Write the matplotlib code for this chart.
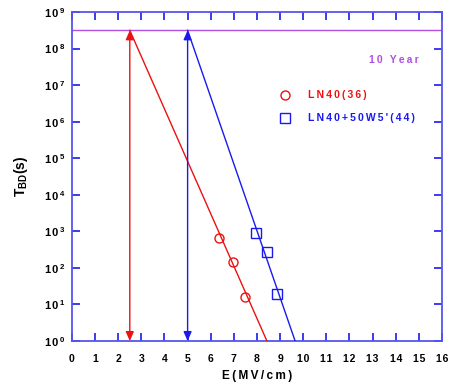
import matplotlib
matplotlib.use("Agg")
import matplotlib.pyplot as plt
from matplotlib.lines import Line2D
from matplotlib.ticker import FixedLocator, NullLocator

plt.rcParams['font.family'] = ['Liberation Sans', 'DejaVu Sans']
plt.rcParams['mathtext.fontset'] = 'custom'
plt.rcParams['mathtext.rm'] = 'Liberation Sans:bold'
plt.rcParams['mathtext.bf'] = 'Liberation Sans:bold'
plt.rcParams['mathtext.it'] = 'Liberation Sans:bold'

# Measured time-to-breakdown data
ln40_E = [6.36, 6.96, 7.49]
ln40_T = [650, 147, 16]
ln40w_E = [7.95, 8.43, 8.87]
ln40w_T = [875, 275, 19]

# Extrapolated fit lines (from 10-year lifetime down to 1 s)
ten_year_s = 3.15e8
ln40_fit_E = [2.5, 8.43]
ln40_fit_T = [ten_year_s, 1.0]
ln40w_fit_E = [5.0, 9.65]
ln40w_fit_T = [ten_year_s, 1.0]

# Field at 10-year lifetime for each film
ln40_E10 = 2.5
ln40w_E10 = 5.0

x_ticks = list(range(0, 17))
y_exps = list(range(0, 10))
series_labels = ['LN40(36)', "LN40+50W5'(44)"]


def spaced(s, gap='\u2009'):
    """Loosen letter spacing with narrow spaces."""
    return gap.join(s)


red = '#ee1111'
blue = '#1a1aee'
spine_blue = '#5555ee'
purple = '#b050e0'

fig = plt.figure(figsize=(4.51, 3.88), dpi=100)
ax = fig.add_axes([0.1596, 0.1211, 0.8204, 0.848])

ax.set_yscale('log')
ax.set_xlim(0, 16)
ax.set_ylim(1, 1e9)

# 10-year line
ax.axhline(ten_year_s, color=purple, lw=1.0, zorder=2)
ax.text(13.9, 10**7.68, spaced('10 Year'), color=purple, fontsize=7.5,
        fontweight='bold', ha='center', va='center')

# fit lines
ax.plot(ln40_fit_E, ln40_fit_T, color=red, lw=1.0, zorder=3)
ax.plot(ln40w_fit_E, ln40w_fit_T, color=blue, lw=1.0, zorder=3)

# data markers
ax.plot(ln40_E, ln40_T, 'o', mfc='none', mec=red, ms=6.5, mew=1.0, zorder=4)
ax.plot(ln40w_E, ln40w_T, 's', mfc='none', mec=blue, ms=7.5, mew=1.0, zorder=4)

# vertical double-headed arrows at the 10-year fields
for e10, c in [(ln40_E10, red), (ln40w_E10, blue)]:
    ax.annotate('', xy=(e10, 1.0), xytext=(e10, ten_year_s),
                arrowprops=dict(arrowstyle='<|-|>,head_length=0.5,head_width=0.22',
                                color=c, lw=1.0,
                                mutation_scale=11, shrinkA=0, shrinkB=0),
                zorder=5)

# legend
handles = [
    Line2D([], [], ls='none', marker='o', mfc='none', mec=red, ms=6.5, mew=1.0),
    Line2D([], [], ls='none', marker='s', mfc='none', mec=blue, ms=7.5, mew=1.0),
]
leg = ax.legend(handles, [spaced(s) for s in series_labels], loc='upper left',
                bbox_to_anchor=(0.535, 0.79), frameon=False,
                handlelength=1.0, handletextpad=1.8, labelspacing=1.25,
                prop={'weight': 'bold', 'size': 7.5})
for t, c in zip(leg.get_texts(), [red, blue]):
    t.set_color(c)

# axes styling
for s in ax.spines.values():
    s.set_color(spine_blue)
    s.set_linewidth(1.3)

ax.xaxis.set_major_locator(FixedLocator(x_ticks))
ax.set_xticklabels([spaced(str(v), '\u200a') for v in x_ticks],
                   fontsize=7.5, fontweight='bold')
ax.yaxis.set_major_locator(FixedLocator([10.0**k for k in y_exps]))
ax.yaxis.set_minor_locator(NullLocator())
ax.set_yticklabels([r'$\mathbf{1\,0}^{\,\mathbf{%d}}$' % k for k in y_exps], fontsize=8)

ax.tick_params(axis='both', which='major', direction='in', length=6, width=1.2,
               color=blue, top=True, right=True, pad=5)
ax.tick_params(axis='x', pad=9)

ax.set_xlabel(spaced('E(MV/cm)'), fontsize=8.5, fontweight='bold', labelpad=5)
ax.set_ylabel(r'$\mathbf{T_{BD}(s)}$', fontsize=10, labelpad=10)

fig.savefig('out.png', dpi=100)
